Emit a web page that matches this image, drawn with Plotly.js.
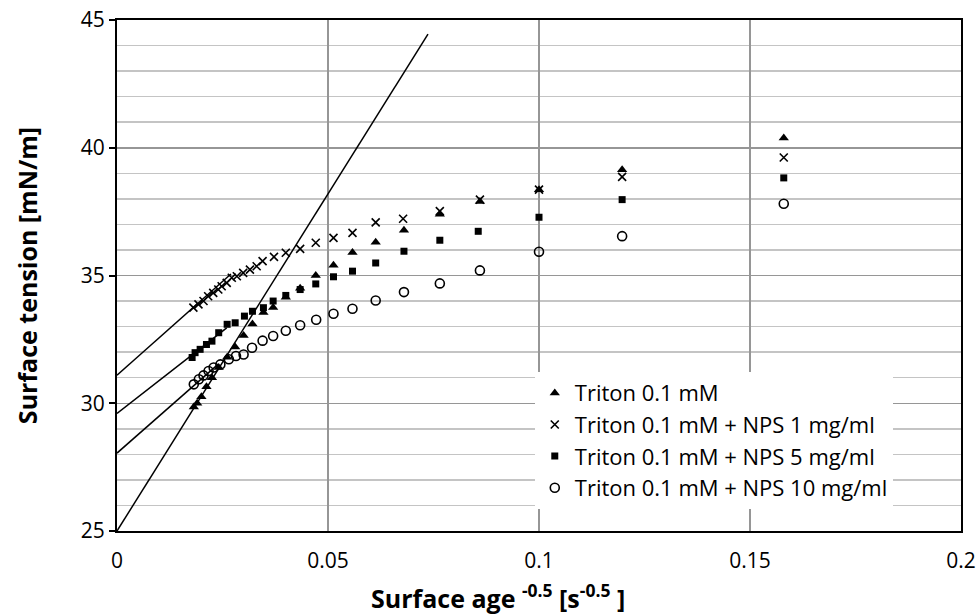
<!DOCTYPE html>
<html>
<head>
<meta charset="utf-8">
<script src="https://cdn.plot.ly/plotly-3.0.1.min.js"></script>
<style>html,body{margin:0;padding:0;background:#fff;}#chart{width:980px;height:614px;}</style>
</head>
<body>
<div id="chart"></div>
<script>
// Series names
const seriesNames = ["Triton 0.1 mM", "Triton 0.1 mM + NPS 1 mg/ml", "Triton 0.1 mM + NPS 5 mg/ml", "Triton 0.1 mM + NPS 10 mg/ml"];

// Triton 0.1 mM (triangles)
const triX = [0.0182, 0.0190, 0.0200, 0.0212, 0.0225, 0.0241, 0.0261, 0.0280, 0.0300, 0.0321, 0.0347, 0.0370, 0.0400, 0.0434, 0.0471, 0.0513, 0.0558, 0.0613, 0.0680, 0.0765, 0.0860, 0.1000, 0.1197, 0.1580];
const triY = [29.85, 30.0, 30.25, 30.65, 31.0, 31.4, 31.8, 32.2, 32.65, 33.1, 33.55, 33.75, 34.15, 34.5, 35.0, 35.4, 35.9, 36.3, 36.77, 37.4, 37.9, 38.36, 39.14, 40.38];

// + NPS 1 mg/ml (crosses)
const crsX = [0.0181, 0.0193, 0.0205, 0.0216, 0.0228, 0.0240, 0.0248, 0.0260, 0.0272, 0.0284, 0.0299, 0.0315, 0.0331, 0.0345, 0.0372, 0.0400, 0.0434, 0.0471, 0.0513, 0.0558, 0.0613, 0.0678, 0.0765, 0.0860, 0.1000, 0.1197, 0.1580];
const crsY = [33.74, 33.87, 34.0, 34.19, 34.32, 34.45, 34.58, 34.71, 34.91, 34.97, 35.1, 35.23, 35.36, 35.56, 35.73, 35.89, 36.04, 36.28, 36.47, 36.67, 37.08, 37.22, 37.52, 37.97, 38.36, 38.86, 39.62];

// + NPS 5 mg/ml (squares)
const sqrX = [0.0178, 0.0185, 0.0197, 0.0212, 0.0225, 0.0241, 0.0261, 0.0280, 0.0302, 0.0321, 0.0347, 0.0370, 0.0400, 0.0434, 0.0471, 0.0513, 0.0558, 0.0613, 0.0680, 0.0765, 0.0856, 0.1000, 0.1197, 0.1580];
const sqrY = [31.79, 31.98, 32.11, 32.3, 32.43, 32.76, 33.09, 33.15, 33.41, 33.6, 33.74, 34.0, 34.22, 34.45, 34.67, 34.95, 35.17, 35.49, 35.95, 36.38, 36.73, 37.28, 37.97, 38.82];

// + NPS 10 mg/ml (open circles)
const cirX = [0.0182, 0.0194, 0.0205, 0.0217, 0.0229, 0.0245, 0.0265, 0.0282, 0.0300, 0.0320, 0.0345, 0.0370, 0.0400, 0.0434, 0.0472, 0.0513, 0.0558, 0.0613, 0.0680, 0.0765, 0.0860, 0.1000, 0.1197, 0.1580];
const cirY = [30.74, 30.94, 31.09, 31.26, 31.4, 31.52, 31.72, 31.85, 31.91, 32.17, 32.45, 32.63, 32.84, 33.05, 33.27, 33.5, 33.7, 34.02, 34.35, 34.69, 35.2, 35.93, 36.54, 37.81];

// Linear fit lines (endpoints)
const fitTriX = [0, 0.0737];
const fitTriY = [25.0, 44.45];
const fitCrsX = [0, 0.027];
const fitCrsY = [31.1, 35.06];
const fitSqrX = [0, 0.026];
const fitSqrY = [29.6, 32.95];
const fitCirX = [0, 0.024];
const fitCirY = [28.05, 31.53];

// Axis ticks
const xTicks = [0, 0.05, 0.1, 0.15, 0.2];
const xTickText = ["0", "0.05", "0.1", "0.15", "0.2"];
const yTicks = [25, 30, 35, 40, 45];

const FONT = "Open Sans, Noto Sans, sans-serif";

function line(x, y) {
  return {x: x, y: y, mode: "lines", type: "scatter", showlegend: false, hoverinfo: "skip",
          line: {color: "#000", width: 1.5}};
}

const traces = [
  line(fitTriX, fitTriY), line(fitCrsX, fitCrsY), line(fitSqrX, fitSqrY), line(fitCirX, fitCirY),
  {x: triX, y: triY, name: seriesNames[0], mode: "markers", type: "scatter",
   marker: {symbol: "triangle-up", size: 9, color: "#000"}},
  {x: crsX, y: crsY, name: seriesNames[1], mode: "markers", type: "scatter",
   marker: {symbol: "x-thin", size: 8, color: "#000", line: {color: "#000", width: 1.6}}},
  {x: sqrX, y: sqrY, name: seriesNames[2], mode: "markers", type: "scatter",
   marker: {symbol: "square", size: 7, color: "#000"}},
  {x: cirX, y: cirY, name: seriesNames[3], mode: "markers", type: "scatter",
   marker: {symbol: "circle-open", size: 9, color: "#000", line: {color: "#000", width: 1.6}}}
];

const layout = {
  width: 980, height: 614,
  margin: {l: 117, r: 19, t: 20, b: 83},
  paper_bgcolor: "#fff", plot_bgcolor: "#fff",
  font: {family: FONT, size: 21, color: "#000"},
  showlegend: true,
  legend: {x: 0.495, y: 0.311, xanchor: "left", yanchor: "top", bgcolor: "#fff",
           borderwidth: 0, font: {family: FONT, size: 22, color: "#000"}, tracegroupgap: 0,
           itemwidth: 30},
  xaxis: {range: [0, 0.2], tickvals: xTicks, ticktext: xTickText, showgrid: true,
          gridcolor: "#969696", gridwidth: 1.5, zeroline: false, showline: true, linecolor: "#000",
          linewidth: 2, mirror: true, ticks: "", ticklen: 0, ticklabelstandoff: 10,
          tickfont: {family: FONT, size: 21, color: "#000"}, fixedrange: true},
  yaxis: {range: [25, 45], tickvals: yTicks, showgrid: true, gridcolor: "#969696", gridwidth: 1.5,
          zeroline: false, showline: true, linecolor: "#000", linewidth: 2, mirror: true,
          ticks: "outside", ticklen: 6, tickwidth: 2, tickcolor: "#000",
          minor: {dtick: 1, showgrid: true, gridcolor: "#c4c4c4", gridwidth: 1.5, ticks: ""},
          tickfont: {family: FONT, size: 21, color: "#000"},
          title: {text: "Surface tension [mN/m]", standoff: 36,
                  font: {family: FONT, size: 25, color: "#000", weight: "bold"}}, fixedrange: true},
  annotations: [{
    text: "<b>Surface age <sup>-0.5</sup> [s<sup>-0.5</sup> ]</b>",
    xref: "paper", yref: "paper", x: 0.451, y: -0.128, xanchor: "center", yanchor: "middle",
    showarrow: false, font: {family: FONT, size: 25, color: "#000"}
  }]
};

Plotly.newPlot("chart", traces, layout, {staticPlot: true, displayModeBar: false});
</script>
</body>
</html>
